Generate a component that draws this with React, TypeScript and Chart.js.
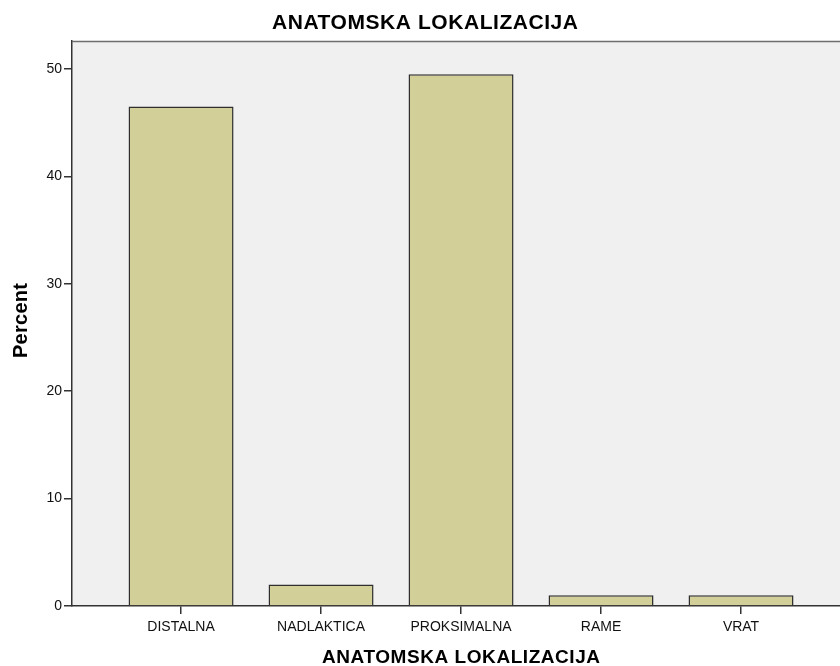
import React, { useEffect, useRef } from "react";
import { Chart, registerables } from "chart.js";

Chart.register(...registerables);

const categories = ["DISTALNA", "NADLAKTICA", "PROKSIMALNA", "RAME", "VRAT"];
const percentValues = [46.5, 2.0, 49.5, 1.0, 1.0];
const yTickValues = [0, 10, 20, 30, 40, 50];
const chartTitle = "ANATOMSKA LOKALIZACIJA";
const xAxisTitle = "ANATOMSKA LOKALIZACIJA";
const yAxisTitle = "Percent";

const FONT = "'Liberation Sans', Arial, sans-serif";

function drawSpaced(ctx: any, text: string, cx: number, cy: number, font: string, targetWidth: number) {
  ctx.font = font;
  ctx.letterSpacing = "0px";
  const w = ctx.measureText(text).width;
  const sp = (targetWidth - w) / Math.max(1, text.length - 1);
  ctx.letterSpacing = `${sp}px`;
  ctx.textAlign = "left";
  ctx.textBaseline = "middle";
  ctx.fillText(text, cx - targetWidth / 2, cy);
  ctx.letterSpacing = "0px";
}

const decorPlugin = {
  id: "decor",
  beforeDraw(chart: any) {
    const { ctx, chartArea } = chart;
    ctx.save();
    ctx.fillStyle = "#f0f0f0";
    ctx.fillRect(chartArea.left, chartArea.top, chartArea.right - chartArea.left, chartArea.bottom - chartArea.top);
    ctx.restore();
  },
  afterDraw(chart: any) {
    const { ctx, chartArea, scales } = chart;
    ctx.save();
    ctx.strokeStyle = "#6e6e6e";
    ctx.lineWidth = 1.5;
    ctx.beginPath();
    ctx.moveTo(chartArea.left, chartArea.top + 0.5);
    ctx.lineTo(chartArea.right, chartArea.top + 0.5);
    ctx.stroke();
    ctx.fillStyle = "#000";
    drawSpaced(ctx, chartTitle, 425, 23, `bold 21px ${FONT}`, 306);
    const x0 = scales.x.getPixelForValue(0);
    const x4 = scales.x.getPixelForValue(categories.length - 1);
    drawSpaced(ctx, xAxisTitle, (x0 + x4) / 2, 658, `bold 19px ${FONT}`, 278);
    ctx.translate(21, 320.5);
    ctx.rotate(-Math.PI / 2);
    drawSpaced(ctx, yAxisTitle, 0, 0, `bold 20px ${FONT}`, 75);
    ctx.restore();
  },
};

export default function App() {
  const ref = useRef<HTMLCanvasElement>(null);
  useEffect(() => {
    document.body.style.margin = "0";
    const chart = new Chart(ref.current as HTMLCanvasElement, {
      type: "bar",
      data: {
        datasets: [
          {
            data: categories.map((c, i) => ({ x: i, y: percentValues[i] })),
            backgroundColor: "#d3cf98",
            borderColor: "#2e2e2e",
            borderWidth: 1.5,
            barPercentage: 0.75,
            categoryPercentage: 1,
          },
        ],
      },
      options: {
        animation: false,
        responsive: false,
        maintainAspectRatio: false,
        layout: { padding: { top: 41, left: 0, right: 0, bottom: 0 } },
        plugins: { legend: { display: false }, tooltip: { enabled: false }, title: { display: false } },
        scales: {
          x: {
            type: "linear",
            offset: false,
            min: -0.779,
            max: 4.707,
            afterBuildTicks: (s: any) => {
              s.ticks = categories.map((_, i) => ({ value: i }));
            },
            afterFit: (s: any) => {
              s.height = 60;
            },
            ticks: {
              callback: (v: any) => categories[v] ?? "",
              color: "#111",
              font: { family: FONT, size: 14 },
              padding: 5,
              maxRotation: 0,
              autoSkip: false,
            },
            grid: { display: true, offset: false, drawOnChartArea: false, drawTicks: true, tickLength: 8, color: "#333", lineWidth: 1.5 },
            border: { display: true, color: "#333", width: 1.5 },
          },
          y: {
            min: 0,
            max: 52.6,
            afterBuildTicks: (s: any) => {
              s.ticks = yTickValues.map((v) => ({ value: v }));
            },
            afterFit: (s: any) => {
              s.width = 72;
            },
            ticks: {
              color: "#111",
              font: { family: FONT, size: 14 },
              padding: 2,
            },
            grid: { display: true, drawOnChartArea: false, drawTicks: true, tickLength: 8, color: "#333", lineWidth: 1.5 },
            border: { display: true, color: "#333", width: 1.5 },
          },
        },
      },
      plugins: [decorPlugin],
    } as any);
    return () => chart.destroy();
  }, []);
  return (
    <div style={{ position: "absolute", left: 0, top: 0, width: 840, height: 666 }}>
      <canvas ref={ref} width={840} height={666} style={{ width: 840, height: 666 }} />
    </div>
  );
}
